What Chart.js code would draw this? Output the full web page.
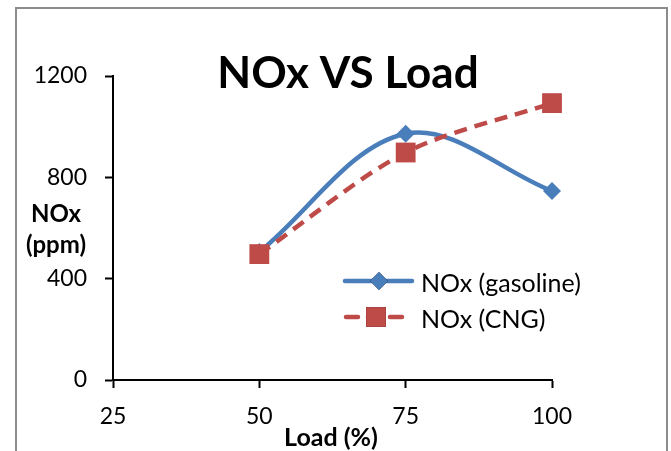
<!DOCTYPE html>
<html>
<head>
<meta charset="utf-8">
<script src="https://cdn.jsdelivr.net/npm/chart.js@4.4.1/dist/chart.umd.min.js"></script>
<style>
  html, body { margin: 0; padding: 0; background: #fff; }
  #wrap { width: 671px; height: 451px; }
</style>
</head>
<body>
<div id="wrap"><canvas id="noxChart" width="671" height="451"></canvas></div>
<script>
// ----- DATA -----
const loads = [50, 75, 100];
const noxGasoline = [505, 972, 746];
const noxCng = [497, 898, 1093];
const xTicks = [25, 50, 75, 100];
const yTicks = [0, 400, 800, 1200];
const seriesNames = ['NOx (gasoline)', 'NOx (CNG)'];

const BLUE = '#4a7ebb';
const RED = '#be4b48';
const FONT = 'Lato, "Open Sans", sans-serif';

// frame, title, axis titles and legend
const decorPlugin = {
  id: 'decor',
  beforeDraw(chart) {
    const ctx = chart.ctx;
    ctx.save();
    ctx.fillStyle = '#fff';
    ctx.fillRect(0, 0, chart.width, chart.height);
    ctx.strokeStyle = '#8c8c8c';
    ctx.lineWidth = 2;
    ctx.strokeRect(16, 8, 651, 470);
    ctx.restore();
  },
  afterDraw(chart) {
    const ctx = chart.ctx;
    ctx.save();
    ctx.fillStyle = '#000';
    ctx.textBaseline = 'middle';
    ctx.textAlign = 'center';
    ctx.font = 'bold 44px ' + FONT;
    ctx.fillText('NOx VS Load', 348, 74);
    ctx.font = 'bold 24px ' + FONT;
    ctx.fillText('NOx', 56, 214);
    ctx.fillText('(ppm)', 56, 245);
    ctx.font = 'bold 25px ' + FONT;
    ctx.fillText('Load (%)', 331, 438);

    // legend
    const ds = chart.data.datasets;
    const rows = [281, 317];
    ds.forEach((d, i) => {
      const y = rows[i];
      ctx.strokeStyle = d.borderColor;
      ctx.lineWidth = d.borderWidth;
      ctx.lineCap = 'round';
      ctx.setLineDash(i === 0 ? [] : [12, 10]);
      ctx.beginPath();
      ctx.moveTo(i === 0 ? 345 : 346, y);
      ctx.lineTo(i === 0 ? 412 : 402, y);
      ctx.stroke();
      ctx.setLineDash([]);
      Chart.helpers.drawPoint(ctx, {
        pointStyle: d.pointStyle, radius: d.pointRadius,
        borderWidth: 0, rotation: 0
      }, i === 0 ? 379 : 376, y);
      ctx.fillStyle = d.backgroundColor;
      ctx.fill();
      ctx.fillStyle = '#000';
      ctx.textAlign = 'left';
      ctx.font = '25px ' + FONT;
      ctx.fillText(d.label, 421, y + 3);
    });
    ctx.restore();
  }
};

new Chart(document.getElementById('noxChart'), {
  type: 'line',
  data: {
    datasets: [
      {
        label: seriesNames[0],
        data: loads.map((x, i) => ({ x, y: noxGasoline[i] })),
        borderColor: BLUE, backgroundColor: BLUE,
        borderWidth: 4.5, tension: 0.35, order: 1, clip: false,
        pointStyle: 'rectRot', pointRadius: 9, pointBorderWidth: 0
      },
      {
        label: seriesNames[1],
        data: loads.map((x, i) => ({ x, y: noxCng[i] })),
        borderColor: RED, backgroundColor: RED,
        borderWidth: 4.5, borderDash: [13, 8], tension: 0.3, order: 0, clip: false,
        pointStyle: 'rect', pointRadius: 14, pointBorderWidth: 0
      }
    ]
  },
  plugins: [decorPlugin],
  options: {
    responsive: false,
    animation: false,
    layout: { padding: { left: 0, right: 119, top: 76, bottom: 0 } },
    plugins: { legend: { display: false }, title: { display: false }, tooltip: { enabled: false } },
    scales: {
      x: {
        type: 'linear', min: 25, max: 100,
        afterBuildTicks: s => { s.ticks = xTicks.map(v => ({ value: v })); },
        afterFit: s => { s.height = 71; },
        grid: { drawOnChartArea: false, tickLength: 8, tickColor: '#000', tickWidth: 2 },
        border: { color: '#000', width: 2 },
        ticks: { color: '#000', font: { family: FONT, size: 23 }, padding: 15, maxRotation: 0,
                 callback: v => String(v) }
      },
      y: {
        min: 0, max: 1200,
        afterBuildTicks: s => { s.ticks = yTicks.map(v => ({ value: v })); },
        afterFit: s => { s.width = 113; },
        grid: { drawOnChartArea: false, tickLength: 8, tickColor: '#000', tickWidth: 2 },
        border: { color: '#000', width: 2 },
        ticks: { color: '#000', font: { family: FONT, size: 23 }, padding: 18,
                 callback: v => String(v) }
      }
    }
  }
});
</script>
</body>
</html>
